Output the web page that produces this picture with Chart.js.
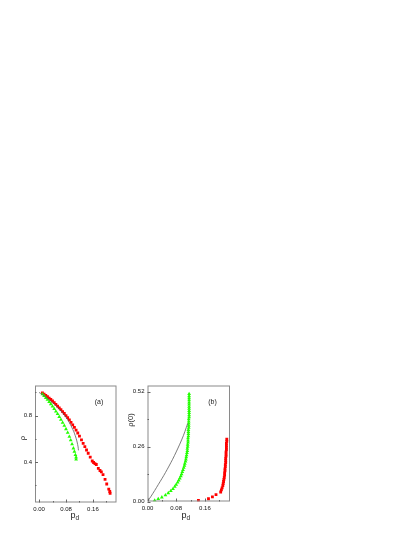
<!DOCTYPE html>
<html>
<head>
<meta charset="UTF-8">
<script src="https://cdn.jsdelivr.net/npm/chart.js@4.4.1/dist/chart.umd.min.js"></script>
<style>
  body { margin: 0; background: #fff; }
  .wrap { position: relative; width: 415px; height: 537px; }
  canvas { position: absolute; }
</style>
</head>
<body>
<div class="wrap">
  <canvas id="chartA" width="110" height="150" style="left:15px;top:375px"></canvas>
  <canvas id="chartB" width="110" height="150" style="left:127px;top:375px"></canvas>
</div>
<script>
// panel (a): rho vs p_d
const redAX = [0.010,0.015,0.020,0.025,0.030,0.035,0.040,0.045,0.050,0.055,0.060,0.065,0.070,0.075,0.080,0.085,0.090,0.095,0.100,0.105,0.110,0.115,0.120,0.126,0.131,0.136,0.141,0.146,0.152,0.158,0.162,0.166,0.170,0.176,0.181,0.185,0.190,0.196,0.201,0.207,0.210,0.211];
const redAY = [0.995,0.985,0.974,0.963,0.951,0.939,0.926,0.912,0.897,0.882,0.867,0.852,0.835,0.818,0.800,0.783,0.763,0.742,0.720,0.698,0.675,0.650,0.623,0.590,0.561,0.532,0.503,0.475,0.442,0.408,0.395,0.385,0.378,0.345,0.326,0.315,0.290,0.250,0.210,0.165,0.145,0.130];
const greenAX = [0.010,0.015,0.020,0.025,0.030,0.035,0.040,0.045,0.050,0.055,0.060,0.065,0.070,0.075,0.080,0.085,0.090,0.094,0.098,0.102,0.105,0.108,0.110,0.110];
const greenAY = [0.985,0.970,0.954,0.937,0.919,0.900,0.880,0.859,0.837,0.814,0.790,0.765,0.739,0.713,0.684,0.653,0.619,0.588,0.553,0.518,0.490,0.460,0.440,0.422];
const lineAX = [0.000,0.010,0.020,0.030,0.040,0.050,0.060,0.070,0.080,0.090,0.100,0.105,0.110,0.113,0.116,0.117];
const lineAY = [1.000,0.982,0.960,0.937,0.912,0.885,0.856,0.823,0.786,0.740,0.682,0.648,0.605,0.572,0.530,0.500];

// panel (b): rho(0) vs p_d
const greenBX = [0.020,0.030,0.040,0.050,0.058,0.065,0.071,0.076,0.080,0.084,0.087,0.090,0.093,0.095,0.097,0.099,0.101,0.103,0.104,0.106,0.107,0.108,0.109,0.110,0.111,0.111,0.112,0.112,0.113,0.113,0.113,0.114,0.114,0.114,0.114,0.115,0.115,0.115,0.115,0.115,0.116,0.116,0.116,0.116,0.116,0.116,0.116,0.116,0.116,0.116,0.116,0.116];
const greenBY = [0.005,0.012,0.020,0.030,0.040,0.050,0.060,0.070,0.080,0.090,0.100,0.110,0.120,0.130,0.140,0.150,0.160,0.170,0.180,0.190,0.200,0.210,0.220,0.230,0.240,0.250,0.260,0.270,0.280,0.290,0.300,0.310,0.320,0.330,0.340,0.350,0.360,0.370,0.380,0.390,0.400,0.410,0.420,0.430,0.440,0.450,0.460,0.470,0.480,0.490,0.500,0.510];
const redBX = [0.142,0.170,0.181,0.191,0.204,0.206,0.208,0.210,0.211,0.212,0.213,0.214,0.215,0.215,0.216,0.216,0.217,0.217,0.218,0.218,0.218,0.219,0.219,0.219,0.220,0.220,0.220,0.220,0.221,0.221];
const redBY = [0.005,0.013,0.022,0.033,0.045,0.055,0.065,0.075,0.085,0.095,0.105,0.115,0.125,0.135,0.145,0.155,0.165,0.175,0.185,0.195,0.205,0.215,0.225,0.235,0.245,0.255,0.265,0.275,0.285,0.295];
const lineBX = [0.000,0.010,0.020,0.030,0.040,0.050,0.060,0.070,0.080,0.090,0.100,0.108,0.112];
const lineBY = [0.000,0.025,0.052,0.080,0.108,0.137,0.168,0.200,0.235,0.272,0.312,0.350,0.370];

// tick values
const xTicks = [0, 0.08, 0.16];
const xMinor = [0.04, 0.12, 0.20];
const yTicksA = [0.4, 0.8];
const yMinorA = [0.2, 0.6, 1.0];
const yTicksB = [0, 0.26, 0.52];
const yMinorB = [0.13, 0.39];

const pts = (xs, ys) => xs.map((x, i) => ({ x: x, y: ys[i] }));

const framePlugin = {
  id: 'frame',
  afterDraw(chart, args, o) {
    const { ctx, chartArea: a, scales: { x, y } } = chart;
    ctx.save();
    ctx.strokeStyle = '#8a8a8a';
    ctx.lineWidth = 1;
    ctx.strokeRect(a.left + 0.5, a.top + 0.5, a.width - 1, a.height - 1);
    // inward ticks
    ctx.strokeStyle = '#666';
    ctx.beginPath();
    const tx = (v, len) => { const p = Math.round(x.getPixelForValue(v)) + 0.5; ctx.moveTo(p, a.bottom); ctx.lineTo(p, a.bottom - len); };
    const ty = (v, len) => { const p = Math.round(y.getPixelForValue(v)) + 0.5; ctx.moveTo(a.left, p); ctx.lineTo(a.left + len, p); };
    o.xMaj.forEach(v => tx(v, 3));
    o.xMin.forEach(v => tx(v, 1.5));
    o.yMaj.forEach(v => ty(v, 3));
    o.yMin.forEach(v => ty(v, 1.5));
    ctx.stroke();
    // titles
    ctx.fillStyle = '#222';
    ctx.textBaseline = 'middle';
    ctx.textAlign = 'center';
    ctx.font = '7px "Liberation Sans", Arial, sans-serif';
    ctx.fillText(o.tag, a.right - 17.5, a.top + 17);
    // x title p_d
    const cx = o.xTitleX;
    ctx.font = '9px "Liberation Sans", Arial, sans-serif';
    ctx.textAlign = 'left';
    ctx.fillText('p', cx - 4.5, 141);
    ctx.font = '6.5px "Liberation Sans", Arial, sans-serif';
    ctx.fillText('d', cx + 0.5, 143.5);
    // y title
    ctx.translate(o.yTitleX, o.yTitleY);
    ctx.rotate(-Math.PI / 2);
    ctx.textAlign = 'center';
    ctx.font = '7.5px "Liberation Sans", Arial, sans-serif';
    ctx.fillText(o.yTitle, 0, 0);
    ctx.restore();
  }
};

function makeChart(id, sets, xr, yr, yW, xH, pad, yFmt, fr) {
  new Chart(document.getElementById(id), {
    type: 'scatter',
    data: { datasets: sets },
    options: {
      responsive: false,
      animation: false,
      layout: { padding: pad },
      plugins: { legend: { display: false }, tooltip: { enabled: false }, frame: fr },
      scales: {
        x: {
          min: xr[0], max: xr[1],
          afterFit: s => { s.height = xH; },
          afterBuildTicks: s => { s.ticks = xTicks.map(v => ({ value: v })); },
          grid: { display: false, drawTicks: false, tickLength: 0 },
          border: { display: false },
          ticks: { padding: 3, color: '#111', font: { size: 6, family: '"Liberation Sans", Arial' }, maxRotation: 0, autoSkip: false, callback: v => v.toFixed(2) }
        },
        y: {
          min: yr[0], max: yr[1],
          afterFit: s => { s.width = yW; },
          afterBuildTicks: s => { s.ticks = fr.yMaj.map(v => ({ value: v })); },
          grid: { display: false, drawTicks: false, tickLength: 0 },
          border: { display: false },
          ticks: { padding: 3, color: '#111', font: { size: 6, family: '"Liberation Sans", Arial' }, autoSkip: false, callback: yFmt }
        }
      }
    },
    plugins: [framePlugin]
  });
}

const lineStyle = { showLine: true, pointRadius: 0, borderColor: '#5a5a5a', borderWidth: 0.8, tension: 0.3 };
const redStyle = { pointStyle: 'rect', pointRadius: 2, backgroundColor: '#ff0000', borderColor: '#ff0000', borderWidth: 0 };
const greenStyle = { pointStyle: 'triangle', pointRadius: 2.2, backgroundColor: '#22ff00', borderColor: '#22ff00', borderWidth: 0 };

makeChart('chartA', [
  Object.assign({ data: pts(lineAX, lineAY) }, lineStyle),
  Object.assign({ data: pts(greenAX, greenAY) }, greenStyle),
  Object.assign({ data: pts(redAX, redAY) }, redStyle)
], [-0.012, 0.23], [0.05, 1.06], 20, 22.5, { left: 0, right: 8.5, top: 10.5, bottom: 0 },
  v => v.toFixed(1),
  { tag: '(a)', xMaj: xTicks, xMin: xMinor, yMaj: yTicksA, yMin: yMinorA, xTitleX: 60, yTitle: 'ρ', yTitleX: 7.5, yTitleY: 63 });

makeChart('chartB', [
  Object.assign({ data: pts(lineBX, lineBY) }, lineStyle),
  Object.assign({ data: pts(greenBX, greenBY) }, greenStyle),
  Object.assign({ data: pts(redBX, redBY) }, redStyle)
], [0, 0.23], [0, 0.55], 20.5, 23.5, { left: 0, right: 7, top: 10.5, bottom: 0 },
  v => v.toFixed(2),
  { tag: '(b)', xMaj: xTicks, xMin: xMinor, yMaj: yTicksB, yMin: yMinorB, xTitleX: 59, yTitle: 'ρ(0)', yTitleX: 4, yTitleY: 45 });
</script>
</body>
</html>
